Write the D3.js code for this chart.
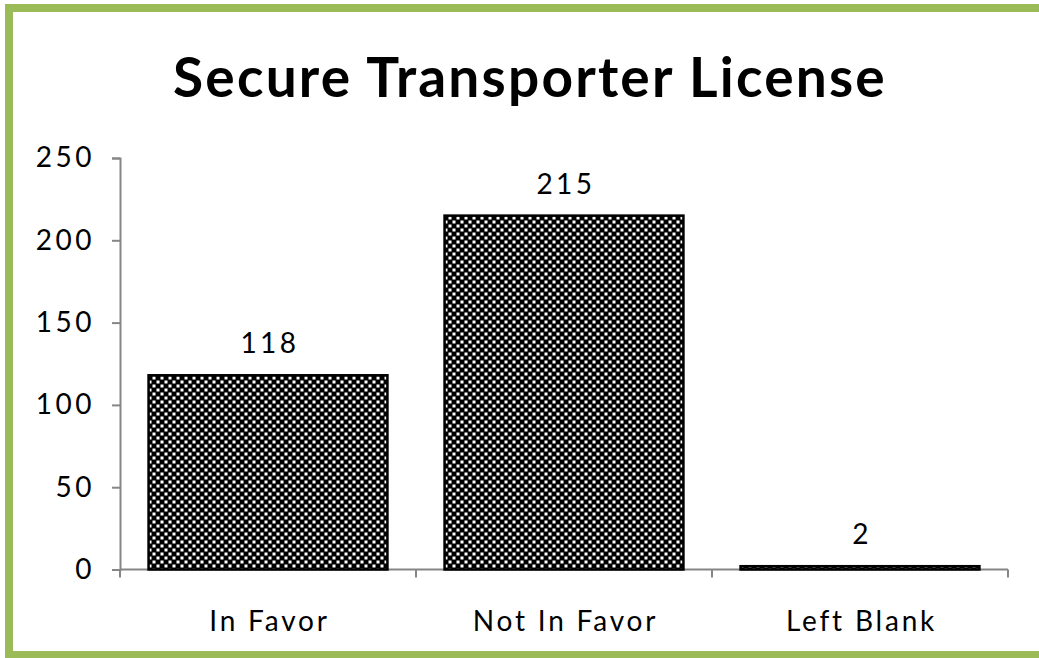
<!DOCTYPE html>
<meta charset="utf-8">
<script src="https://cdn.jsdelivr.net/npm/d3@7"></script>
<style>
body { margin: 0; background: #fff; }
text { font-family: Lato, "Open Sans", sans-serif; fill: #000; }
.axis path, .axis line { stroke: #868686; stroke-width: 2px; }
</style>
<body>
<script>

var categories = ["In Favor", "Not In Favor", "Left Blank"];
var values = [118, 215, 2];
var yTicks = [0, 50, 100, 150, 200, 250];
var chartTitle = "Secure Transporter License";

var width = 1039,
    height = 658;

var svg = d3.select("body").append("svg")
    .attr("width", width)
    .attr("height", height);

// checker pattern for the bars
var defs = svg.append("defs");
var pat = defs.append("pattern")
    .attr("id", "checks")
    .attr("patternUnits", "userSpaceOnUse")
    .attr("width", 8)
    .attr("height", 8);
pat.append("rect").attr("width", 8).attr("height", 8).attr("fill", "#000");
pat.append("rect").attr("x", 0.5).attr("y", 0.5).attr("width", 3).attr("height", 3).attr("fill", "#fff");
pat.append("rect").attr("x", 4.5).attr("y", 4.5).attr("width", 3).attr("height", 3).attr("fill", "#fff");

// green frame (left, top, bottom)
svg.append("path")
    .attr("d", "M1060,8 H9 V655 H1060")
    .attr("fill", "none")
    .attr("stroke", "#9bbb59")
    .attr("stroke-width", 8);

var x = d3.scaleBand()
    .domain(categories)
    .range([120, 1008])
    .paddingInner(0.193)
    .paddingOuter(0.0965);

var y = d3.scaleLinear()
    .domain([0, 250])
    .range([569.5, 158]);

// axes
var yAxis = svg.append("g")
    .attr("class", "axis")
    .attr("transform", "translate(120,0)")
    .call(d3.axisLeft(y).tickValues(yTicks).tickSize(8).tickSizeOuter(8).tickPadding(17));
yAxis.selectAll("text")
    .style("font-size", "28px")
    .style("letter-spacing", "3.5px");

var xTickPos = [120].concat(categories.map(function(c) { return x(c) + x.bandwidth() + x.step() * x.paddingInner() / 2; }));
xTickPos[3] = 1008;

var xg = svg.append("g").attr("class", "axis");
xg.append("line")
    .attr("x1", 120).attr("x2", 1008)
    .attr("y1", y(0)).attr("y2", y(0));
xg.selectAll(".tk")
    .data(xTickPos)
    .enter().append("line")
    .attr("x1", function(d) { return d; })
    .attr("x2", function(d) { return d; })
    .attr("y1", y(0))
    .attr("y2", y(0) + 8);

// bars
svg.selectAll(".bar")
    .data(values)
    .enter().append("rect")
    .attr("class", "bar")
    .attr("x", function(d, i) { return x(categories[i]); })
    .attr("width", x.bandwidth())
    .attr("y", function(d) { return y(d); })
    .attr("height", function(d) { return y(0) - y(d); })
    .attr("fill", "url(#checks)")
    .attr("stroke", "#000")
    .attr("stroke-width", 2.5);

// value labels
svg.selectAll(".val")
    .data(values)
    .enter().append("text")
    .attr("x", function(d, i) { return x(categories[i]) + x.bandwidth() / 2 + 2; })
    .attr("y", function(d) { return y(d) - 22; })
    .attr("text-anchor", "middle")
    .style("font-size", "28px")
    .style("letter-spacing", "3.5px")
    .text(function(d) { return d; });

// category labels
svg.selectAll(".cat")
    .data(categories)
    .enter().append("text")
    .attr("x", function(d) { return x(d) + x.bandwidth() / 2 + 1.5; })
    .attr("y", 631)
    .attr("text-anchor", "middle")
    .style("font-size", "28px")
    .style("letter-spacing", "2.8px")
    .text(function(d) { return d; });

// title
svg.append("text")
    .attr("x", 530)
    .attr("y", 97)
    .attr("text-anchor", "middle")
    .style("font-size", "55px")
    .style("font-weight", "bold")
    .style("letter-spacing", "2.2px")
    .text(chartTitle);

</script>
</body>
